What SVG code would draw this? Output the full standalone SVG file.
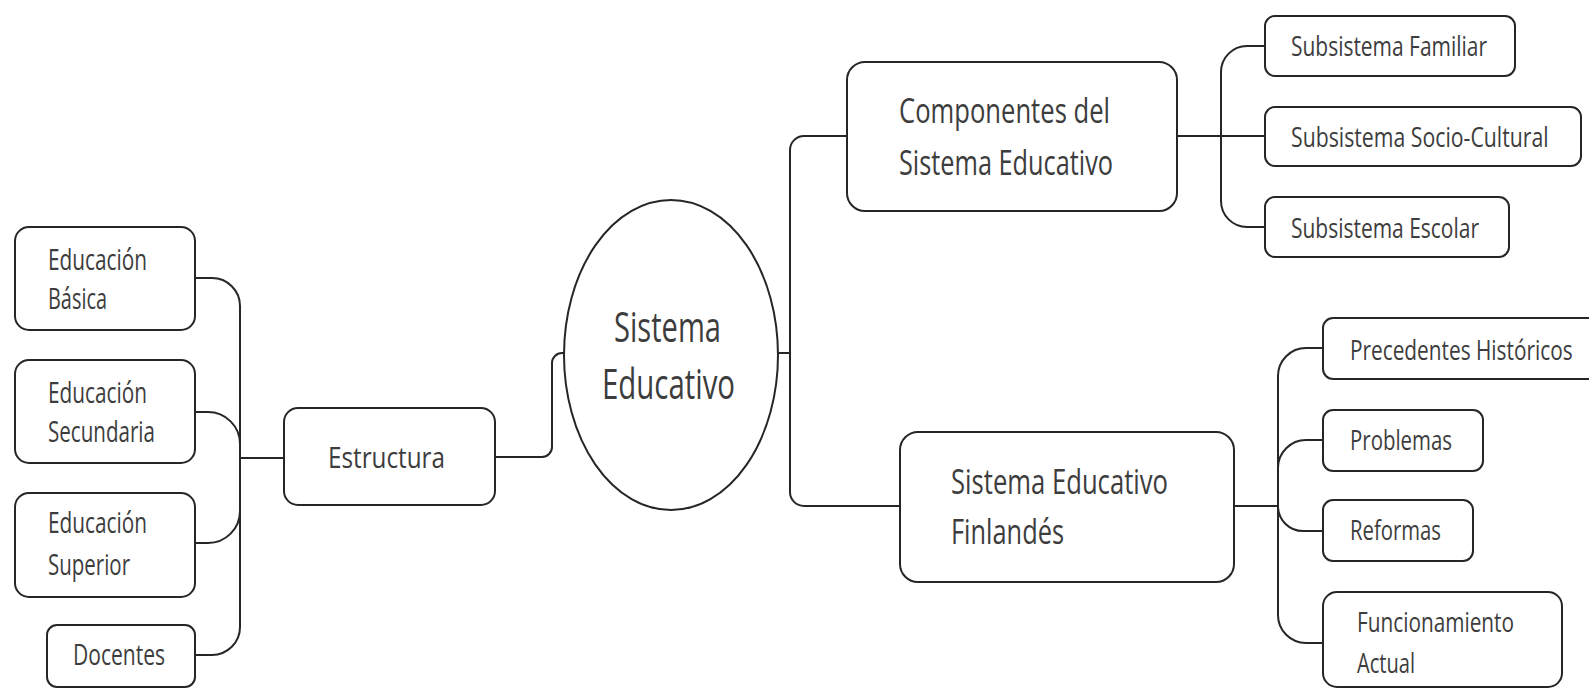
<svg xmlns="http://www.w3.org/2000/svg" width="1589" height="689" viewBox="0 0 1589 689">
<style>
.box{fill:#fff;stroke:#262626;stroke-width:2}
.con{fill:none;stroke:#262626;stroke-width:2}
text{font-family:"Open Sans","Noto Sans","Liberation Sans",sans-serif;fill:#3d3d3d}
.s{font-size:28px}
.t{font-size:30px}
.m{font-size:35px}
.l{font-size:42px}
</style>
<rect width="1589" height="689" fill="#fff"/>
<g id="connectors">
<path class="con" d="M284,458 H240"/>
<path class="con" d="M240,458 V306 A28,28 0 0 0 212,278 H195"/>
<path class="con" d="M240,458 V444 A32,32 0 0 0 208,412 H195"/>
<path class="con" d="M240,458 V511 A32,32 0 0 1 208,543 H195"/>
<path class="con" d="M240,458 V627 A28,28 0 0 1 212,655 H195"/>
<path class="con" d="M495,457 H542 A10,10 0 0 0 552,447 V363 A10,10 0 0 1 562,353 H565"/>
<path class="con" d="M777,353 H790"/>
<path class="con" d="M790,353 V150 A14,14 0 0 1 804,136 H847"/>
<path class="con" d="M790,353 V492 A14,14 0 0 0 804,506 H900"/>
<path class="con" d="M1177,136 H1265"/>
<path class="con" d="M1221,136 V72 A26,26 0 0 1 1247,46 H1265"/>
<path class="con" d="M1221,136 V201 A26,26 0 0 0 1247,227 H1265"/>
<path class="con" d="M1234,506 H1278"/>
<path class="con" d="M1278,506 V376 A28,28 0 0 1 1306,348 H1323"/>
<path class="con" d="M1278,506 V468 A28,28 0 0 1 1306,440 H1323"/>
<path class="con" d="M1278,506 A25,25 0 0 0 1303,531 H1323"/>
<path class="con" d="M1278,506 V615 A28,28 0 0 0 1306,643 H1323"/>
</g>
<g id="n-basica">
<rect class="box" x="15" y="227" width="180" height="103" rx="14"/>
<text class="t" x="48" y="270" textLength="99" lengthAdjust="spacingAndGlyphs">Educación</text>
<text class="t" x="48" y="309" textLength="59" lengthAdjust="spacingAndGlyphs">Básica</text>
</g>
<g id="n-secundaria">
<rect class="box" x="15" y="360" width="180" height="103" rx="14"/>
<text class="t" x="48" y="403" textLength="99" lengthAdjust="spacingAndGlyphs">Educación</text>
<text class="t" x="48" y="442" textLength="107" lengthAdjust="spacingAndGlyphs">Secundaria</text>
</g>
<g id="n-superior">
<rect class="box" x="15" y="493" width="180" height="104" rx="14"/>
<text class="t" x="48" y="533" textLength="99" lengthAdjust="spacingAndGlyphs">Educación</text>
<text class="t" x="48" y="575" textLength="82" lengthAdjust="spacingAndGlyphs">Superior</text>
</g>
<g id="n-docentes">
<rect class="box" x="47" y="625" width="148" height="62" rx="10"/>
<text class="t" x="73" y="665" textLength="92" lengthAdjust="spacingAndGlyphs">Docentes</text>
</g>
<g id="n-estructura">
<rect class="box" x="284" y="408" width="211" height="97" rx="14"/>
<text class="t" x="328" y="468" textLength="117" lengthAdjust="spacingAndGlyphs">Estructura</text>
</g>
<g id="n-sistema">
<ellipse class="box" cx="671" cy="355" rx="107" ry="155"/>
<text class="l" x="614" y="342" textLength="107" lengthAdjust="spacingAndGlyphs">Sistema</text>
<text class="l" x="602" y="399" textLength="133" lengthAdjust="spacingAndGlyphs">Educativo</text>
</g>
<g id="n-componentes">
<rect class="box" x="847" y="62" width="330" height="149" rx="18"/>
<text class="m" x="899" y="123" textLength="211" lengthAdjust="spacingAndGlyphs">Componentes del</text>
<text class="m" x="899" y="175" textLength="214" lengthAdjust="spacingAndGlyphs">Sistema Educativo</text>
</g>
<g id="n-familiar">
<rect class="box" x="1265" y="16" width="250" height="60" rx="10"/>
<text class="s" x="1291" y="56" textLength="196" lengthAdjust="spacingAndGlyphs">Subsistema Familiar</text>
</g>
<g id="n-sociocultural">
<rect class="box" x="1265" y="107" width="316" height="59" rx="10"/>
<text class="s" x="1291" y="147" transform="translate(1291 0) scale(0.76 1) translate(-1291 0)" textLength="339" lengthAdjust="spacingAndGlyphs">Subsistema Socio-Cultural</text>
</g>
<g id="n-escolar">
<rect class="box" x="1265" y="197" width="244" height="60" rx="10"/>
<text class="s" x="1291" y="238" textLength="188" lengthAdjust="spacingAndGlyphs">Subsistema Escolar</text>
</g>
<g id="n-finlandes">
<rect class="box" x="900" y="432" width="334" height="150" rx="18"/>
<text class="m" x="951" y="494" textLength="217" lengthAdjust="spacingAndGlyphs">Sistema Educativo</text>
<text class="m" x="951" y="544" textLength="113" lengthAdjust="spacingAndGlyphs">Finlandés</text>
</g>
<g id="n-precedentes">
<rect class="box" x="1323" y="318" width="280" height="61" rx="10"/>
<text class="s" x="1350" y="360" transform="translate(1350 0) scale(0.76 1) translate(-1350 0)" textLength="293" lengthAdjust="spacingAndGlyphs">Precedentes Históricos</text>
</g>
<g id="n-problemas">
<rect class="box" x="1323" y="410" width="160" height="61" rx="10"/>
<text class="s" x="1350" y="450" textLength="102" lengthAdjust="spacingAndGlyphs">Problemas</text>
</g>
<g id="n-reformas">
<rect class="box" x="1323" y="500" width="150" height="61" rx="10"/>
<text class="s" x="1350" y="540" textLength="91" lengthAdjust="spacingAndGlyphs">Reformas</text>
</g>
<g id="n-funcionamiento">
<rect class="box" x="1323" y="592" width="239" height="95" rx="14"/>
<text class="s" x="1357" y="632" textLength="157" lengthAdjust="spacingAndGlyphs">Funcionamiento</text>
<text class="s" x="1357" y="673" textLength="58" lengthAdjust="spacingAndGlyphs">Actual</text>
</g>
</svg>
